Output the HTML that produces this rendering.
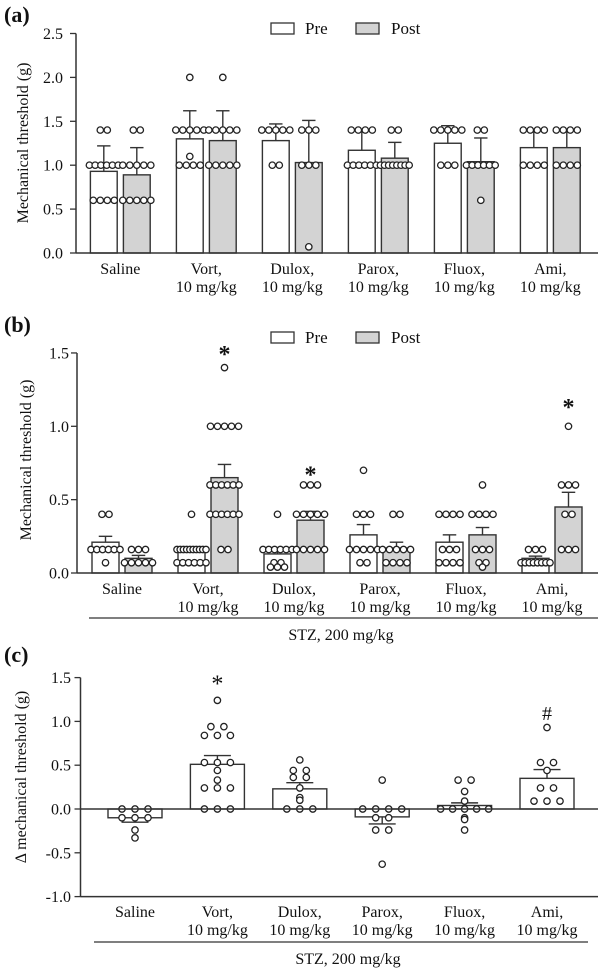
<!DOCTYPE html>
<html><head><meta charset="utf-8">
<style>
html,body{margin:0;padding:0;background:#fff;}
svg{display:block;font-family:"Liberation Serif",serif;}
</style></head>
<body>
<svg id="fig" width="600" height="969" viewBox="0 0 600 969" xmlns="http://www.w3.org/2000/svg"></svg>
<script>
// ---------- data ----------
const groups = ["Saline","Vort,","Dulox,","Parox,","Fluox,","Ami,"];
const groupSub = ["","10 mg/kg","10 mg/kg","10 mg/kg","10 mg/kg","10 mg/kg"];
// Panel (a)
const aPreMean = [0.93,1.30,1.28,1.17,1.25,1.20];
const aPreErr  = [0.29,0.32,0.19,0.22,0.20,0.20];
const aPostMean= [0.89,1.28,1.03,1.08,1.04,1.20];
const aPostErr = [0.31,0.34,0.48,0.18,0.27,0.20];
const aPrePts = [
 [1.4,1.4,1.0,1.0,1.0,1.0,1.0,1.0,0.6,0.6,0.6,0.6],
 [2.0,1.4,1.4,1.4,1.4,1.4,1.1,1.0,1.0,1.0,1.0],
 [1.4,1.4,1.4,1.4,1.4,1.0,1.0],
 [1.4,1.4,1.4,1.4,1.0,1.0,1.0,1.0,1.0,1.0],
 [1.4,1.4,1.4,1.4,1.4,1.0,1.0,1.0],
 [1.4,1.4,1.4,1.4,1.0,1.0,1.0,1.0]];
const aPostPts = [
 [1.4,1.4,1.0,1.0,1.0,1.0,1.0,0.6,0.6,0.6,0.6,0.6],
 [2.0,1.4,1.4,1.4,1.4,1.4,1.0,1.0,1.0,1.0,1.0],
 [1.4,1.4,1.4,1.0,1.0,1.0,0.07],
 [1.4,1.4,1.0,1.0,1.0,1.0,1.0,1.0,1.0,1.0],
 [1.4,1.4,1.0,1.0,1.0,1.0,1.0,1.0,0.6],
 [1.4,1.4,1.4,1.4,1.0,1.0,1.0,1.0]];
const aTicks = [0,0.5,1.0,1.5,2.0,2.5];
// Panel (b)
const bPreMean = [0.21,0.15,0.13,0.26,0.21,0.10];
const bPreErr  = [0.04,0.015,0.02,0.07,0.05,0.015];
const bPostMean= [0.10,0.65,0.36,0.17,0.26,0.45];
const bPostErr = [0.02,0.09,0.06,0.04,0.05,0.10];
const bPrePts = [
 [0.4,0.4,0.16,0.16,0.16,0.16,0.16,0.16,0.07],
 [0.4,0.16,0.16,0.16,0.16,0.16,0.16,0.16,0.16,0.16,0.16,0.07,0.07,0.07,0.07,0.07,0.07],
 [0.4,0.16,0.16,0.16,0.16,0.16,0.16,0.07,0.07,0.04,0.04,0.04],
 [0.7,0.4,0.4,0.4,0.16,0.16,0.16,0.16,0.16,0.07,0.07],
 [0.4,0.4,0.4,0.4,0.16,0.16,0.16,0.07,0.07,0.07,0.07],
 [0.16,0.16,0.16,0.07,0.07,0.07,0.07,0.07,0.07,0.07,0.07]];
const bPostPts = [
 [0.16,0.16,0.16,0.07,0.07,0.07,0.07,0.07],
 [1.4,1.0,1.0,1.0,1.0,1.0,0.6,0.6,0.6,0.6,0.6,0.6,0.4,0.4,0.4,0.4,0.4,0.4,0.16,0.16],
 [0.6,0.6,0.6,0.4,0.4,0.4,0.4,0.4,0.16,0.16,0.16,0.16,0.16],
 [0.4,0.4,0.16,0.16,0.16,0.16,0.16,0.07,0.07,0.07,0.07],
 [0.6,0.4,0.4,0.4,0.4,0.16,0.16,0.16,0.07,0.07,0.04],
 [1.0,0.6,0.6,0.6,0.4,0.4,0.16,0.16,0.16]];
const bStars = [null,1.52,0.70,null,null,1.16];
const bTicks = [0,0.5,1.0,1.5];
// Panel (c)
const cMean = [-0.10,0.51,0.23,-0.09,0.04,0.35];
const cErr  = [0.05,0.10,0.07,0.08,0.03,0.10];
const cPts = [
 [0,0,0,-0.1,-0.1,-0.1,-0.24,-0.33],
 [1.24,0.94,0.94,0.84,0.84,0.84,0.53,0.53,0.53,0.44,0.33,0.24,0.24,0.24,0,0,0],
 [0.56,0.44,0.44,0.36,0.36,0.24,0.13,0.1,0,0,0],
 [0.33,0,0,0,0,-0.1,-0.1,-0.24,-0.24,-0.63],
 [0.33,0.33,0.2,0.09,0,0,0,0,0,-0.1,-0.12,-0.24],
 [0.93,0.53,0.53,0.44,0.24,0.24,0.09,0.09,0.09]];
const cMarks = [null,"*",null,null,null,"#"];
const cMarkY = [null,1.43,null,null,null,1.11];
const cTicks = [-1.0,-0.5,0,0.5,1.0,1.5];

// ---------- helpers ----------
const NS="http://www.w3.org/2000/svg";
const svg=document.getElementById('fig');
function el(tag,attrs,parent){const e=document.createElementNS(NS,tag);for(const k in attrs)e.setAttribute(k,attrs[k]);(parent||svg).appendChild(e);return e;}
function txt(x,y,s,size,anchor,parent,extra){const t=el('text',Object.assign({x:x,y:y,'font-size':size,'text-anchor':anchor||'middle',fill:'#111'},extra||{}),parent);t.textContent=s;return t;}
function dots(cx,vals,yf,spacing,maxW,parent){
  const byVal={};vals.forEach(v=>{const k=v.toFixed(3);(byVal[k]=byVal[k]||[]).push(v);});
  for(const k in byVal){const arr=byVal[k];const n=arr.length;
    let sp=spacing; if(n>1 && sp*(n-1)>maxW) sp=maxW/(n-1);
    arr.forEach((v,i)=>{const c=el('circle',{cx:cx+(i-(n-1)/2)*sp,cy:yf(v),r:3.2,fill:'#fff',stroke:'#222','stroke-width':1.3},parent);
      
      });}
}
function yAxis(g,ax,yf,ticks,labelX,titleX,titleY,title,top,bottom){
  el('line',{x1:ax,y1:yf(top),x2:ax,y2:yf(bottom),stroke:'#333','stroke-width':1.5},g);
  ticks.forEach(t=>{el('line',{x1:ax-6,y1:yf(t),x2:ax,y2:yf(t),stroke:'#333','stroke-width':1.3},g);
    const l=txt(labelX,yf(t)+5.5,t.toFixed(1),16,'end',g);
    });
  const tt=txt(titleX,titleY,title,16,'middle',g,{transform:`rotate(-90 ${titleX} ${titleY})`});
  
}
function legend(g,y){
  const lg=el('g',{},g);
  el('rect',{x:271,y:y,width:23,height:11,fill:'#fff',stroke:'#333','stroke-width':1.3,},lg);
  txt(305,y+11,'Pre',17,'start',lg,{});
  el('rect',{x:356,y:y,width:23,height:11,fill:'#d3d3d3',stroke:'#333','stroke-width':1.3,},lg);
  txt(391,y+11,'Post',17,'start',lg,{});
}
function catLabels(g,centers,y1,y2){
  centers.forEach((c,i)=>{const t=txt(c,y1,groups[i],16,'middle',g);
    if(groupSub[i]){const s=txt(c,y2,groupSub[i],16,'middle',g);}});
}
function bar(g,x,w,yf,mean,err,fill,name){
  const y0=yf(0),ym=yf(mean);
  const r=el('rect',{x:x,y:Math.min(y0,ym),width:w,height:Math.abs(y0-ym),fill:fill,stroke:'#333','stroke-width':1.4},g);
  
  const ye=yf(mean+(mean>=0?err:-err)),cx=x+w/2;
  el('line',{x1:cx,y1:ym,x2:cx,y2:ye,stroke:'#333','stroke-width':1.4,},g);
  el('line',{x1:cx-w/4,y1:ye,x2:cx+w/4,y2:ye,stroke:'#333','stroke-width':1.4,},g);
}

// ---------- panel a ----------
(function(){
  const g=el('g',{});
  txt(4,22,'(a)',22,'start',g,{'font-weight':'bold',});
  const ax=76,y0=253,s=87.8, yf=v=>y0-v*s;
  const x0=90.4,step=86,bw=26.8,off=33;
  legend(g,23);
  const centers=[];
  groups.forEach((_,i)=>{const xp=x0+i*step,xq=xp+off;centers.push(xp+(off+bw)/2);
    bar(g,xp,bw,yf,aPreMean[i],aPreErr[i],'#fff','bar-pre');
    bar(g,xq,bw,yf,aPostMean[i],aPostErr[i],'#d3d3d3','bar-post');
    dots(xp+bw/2,aPrePts[i],yf,7,bw+2,g);
    dots(xq+bw/2,aPostPts[i],yf,7,bw+2,g);});
  el('line',{x1:ax,y1:y0,x2:598,y2:y0,stroke:'#333','stroke-width':1.5,},g);
  yAxis(g,ax,yf,aTicks,63,28,143,'Mechanical threshold (g)',2.5,0);
  catLabels(g,centers,274,292);
})();

// ---------- panel b ----------
(function(){
  const g=el('g',{});
  txt(4,332,'(b)',22,'start',g,{'font-weight':'bold',});
  const ax=77,y0=573,s=146.7, yf=v=>y0-v*s;
  const x0=92,step=86,bw=27,off=33;
  legend(g,332);
  const centers=[];
  groups.forEach((_,i)=>{const xp=x0+i*step,xq=xp+off;centers.push(xp+(off+bw)/2);
    bar(g,xp,bw,yf,bPreMean[i],bPreErr[i],'#fff','bar-pre');
    bar(g,xq,bw,yf,bPostMean[i],bPostErr[i],'#d3d3d3','bar-post');
    dots(xp+bw/2,bPrePts[i],yf,7,bw+2,g);
    dots(xq+bw/2,bPostPts[i],yf,7,bw+2,g);
    if(bStars[i]!==null){txt(xq+bw/2,yf(bStars[i])+12,'*',24,'middle',g,{'font-weight':'bold',});}
  });
  el('line',{x1:ax,y1:y0,x2:598,y2:y0,stroke:'#333','stroke-width':1.5,},g);
  yAxis(g,ax,yf,bTicks,69,31,460,'Mechanical threshold (g)',1.5,0);
  catLabels(g,centers,594,612);
  el('line',{x1:89,y1:618,x2:598,y2:618,stroke:'#333','stroke-width':1.3,},g);
  txt(341,640,'STZ, 200 mg/kg',16,'middle',g,{});
})();

// ---------- panel c ----------
(function(){
  const g=el('g',{});
  txt(4,662,'(c)',22,'start',g,{'font-weight':'bold',});
  const ax=80.5,y0=809,s=87.6, yf=v=>y0-v*s;
  const x0=108,step=82.4,bw=54;
  const centers=[];
  groups.forEach((_,i)=>{const xp=x0+i*step;centers.push(xp+bw/2);
    bar(g,xp,bw,yf,cMean[i],cErr[i],'#fff','bar-delta');
    dots(xp+bw/2,cPts[i],yf,13,bw-6,g);
    if(cMarks[i]){txt(xp+bw/2,yf(cMarkY[i])+8,cMarks[i],cMarks[i]==='*'?24:20,'middle',g,{});}
  });
  el('line',{x1:ax,y1:y0,x2:598,y2:y0,stroke:'#333','stroke-width':1.4,},g);
  el('line',{x1:ax,y1:yf(-1),x2:598,y2:yf(-1),stroke:'#333','stroke-width':1.5,},g);
  yAxis(g,ax,yf,cTicks,71,26,777,'Δ mechanical threshold (g)',1.5,-1.0);
  catLabels(g,centers,917,935);
  el('line',{x1:94,y1:942,x2:588,y2:942,stroke:'#333','stroke-width':1.3,},g);
  txt(348,964,'STZ, 200 mg/kg',16,'middle',g,{});
})();
</script>
</body></html>
